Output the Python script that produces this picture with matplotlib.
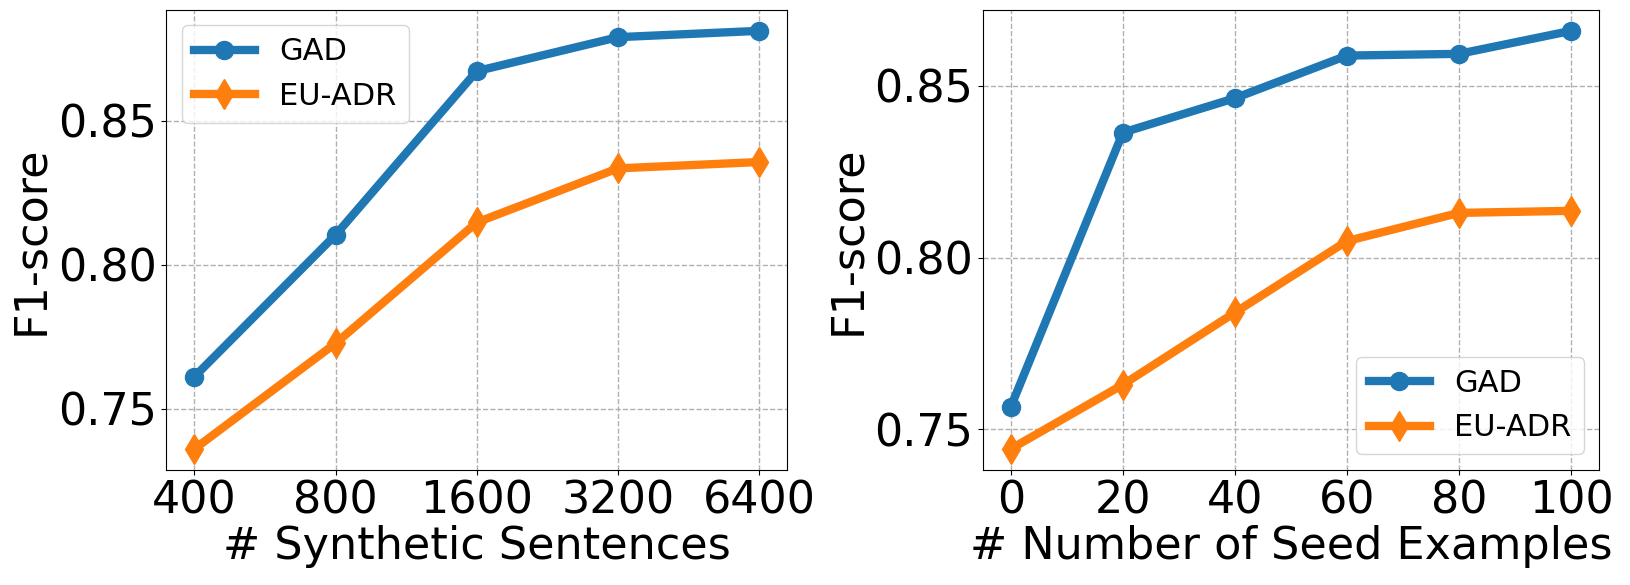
import matplotlib
matplotlib.use("Agg")
import matplotlib.pyplot as plt

# Left panel: number of synthetic sentences
sent_labels = ["400", "800", "1600", "3200", "6400"]
gad_sent = [0.7611, 0.8104, 0.8673, 0.8791, 0.8813]
euadr_sent = [0.7360, 0.7727, 0.8147, 0.8335, 0.8357]

# Right panel: number of seed examples
seeds = [0, 20, 40, 60, 80, 100]
gad_seed = [0.7566, 0.8364, 0.8464, 0.8588, 0.8593, 0.8660]
euadr_seed = [0.7443, 0.7630, 0.7840, 0.8048, 0.8130, 0.8136]

blue = "#1f77b4"
orange = "#ff7f0e"
fs = 32

fig = plt.figure(figsize=(16.3, 5.85), dpi=100)
ax1 = fig.add_axes([0.102, 0.197, 0.381, 0.786])
ax2 = fig.add_axes([0.603, 0.197, 0.378, 0.786])

# left
xs = list(range(len(sent_labels)))
ax1.plot(xs, gad_sent, color=blue, lw=6, marker="o", markersize=13, label="GAD")
ax1.plot(xs, euadr_sent, color=orange, lw=6, marker="d", markersize=15, label="EU-ADR")
ax1.set_xticks(xs)
ax1.set_xticklabels(sent_labels)
ax1.set_xlabel("# Synthetic Sentences", fontsize=fs, labelpad=2)
ax1.legend(loc="upper left", fontsize=22)

# right
ax2.plot(seeds, gad_seed, color=blue, lw=6, marker="o", markersize=13, label="GAD")
ax2.plot(seeds, euadr_seed, color=orange, lw=6, marker="d", markersize=15, label="EU-ADR")
ax2.set_xticks(seeds)
ax2.set_xlabel("# Number of Seed Examples", fontsize=fs, labelpad=2)
ax2.legend(loc="lower right", fontsize=22)

for ax in (ax1, ax2):
    ax.set_yticks([0.75, 0.80, 0.85])
    ax.set_yticklabels(["0.75", "0.80", "0.85"])
    ax.set_ylabel("F1-score", fontsize=fs)
    ax.tick_params(labelsize=fs)
    ax.grid(True, linestyle="--", color="#b0b0b0", linewidth=1)

fig.savefig("out.png", dpi=100)
